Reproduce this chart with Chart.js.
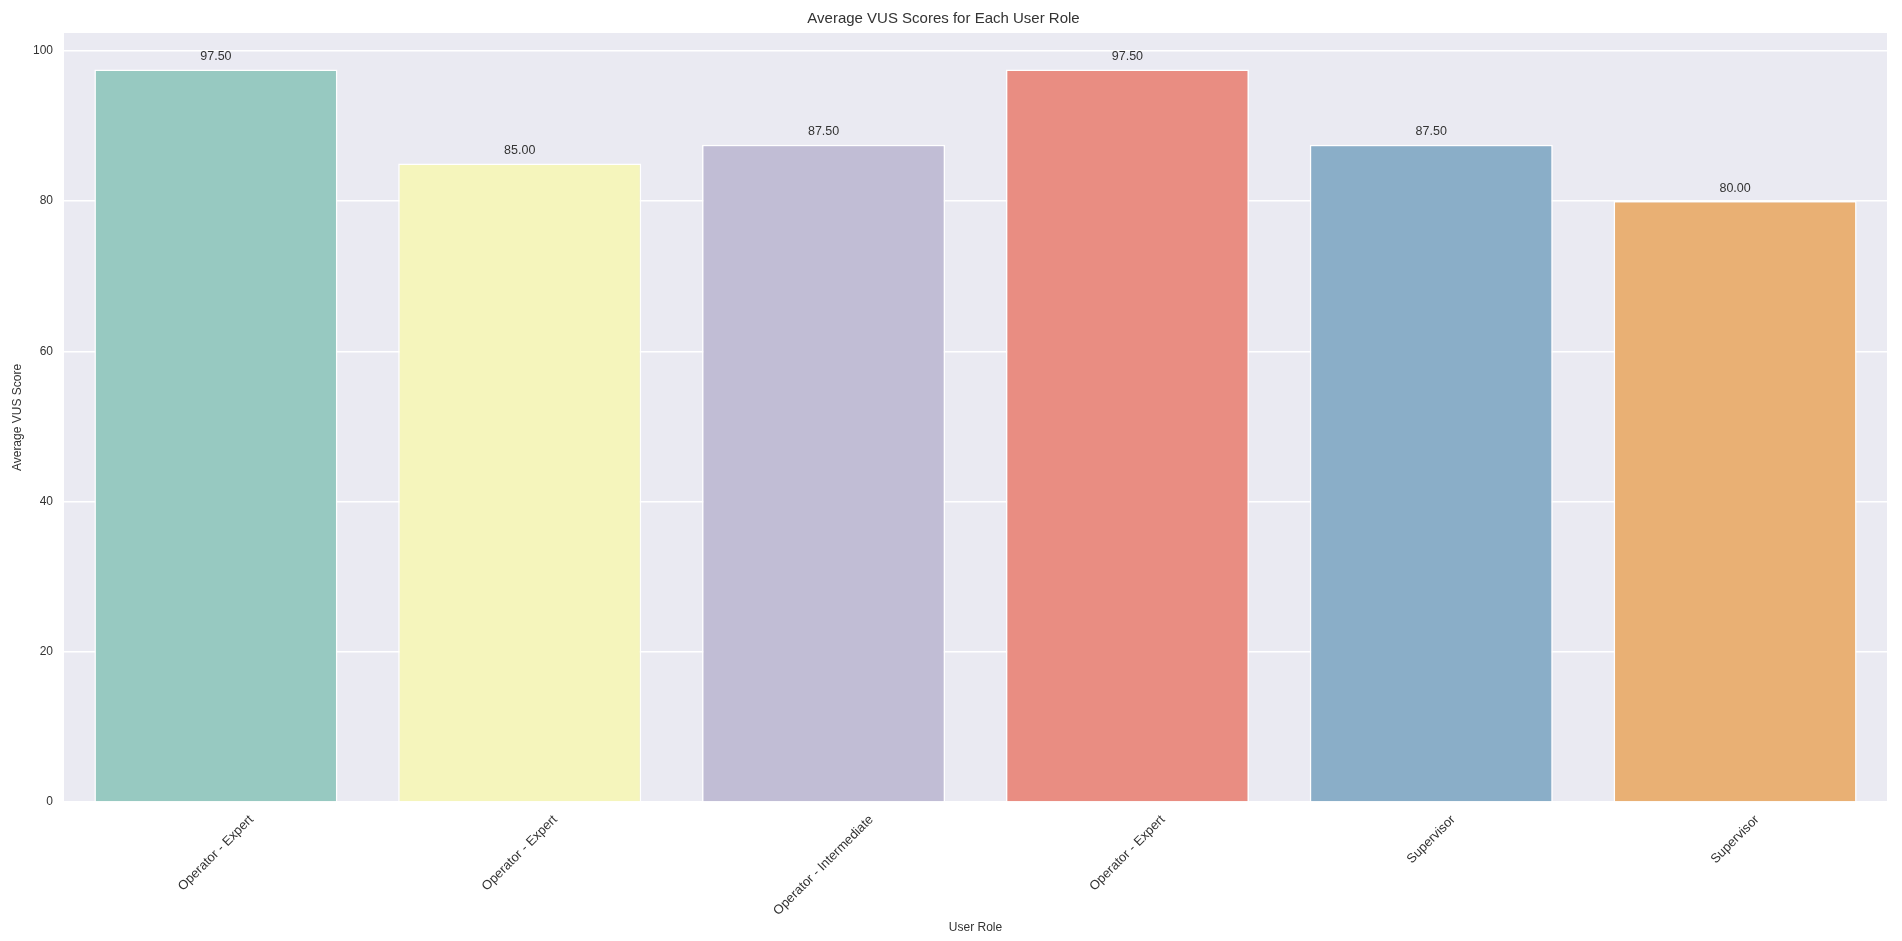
<!DOCTYPE html>
<html>
<head>
<meta charset="utf-8">
<script src="https://cdn.jsdelivr.net/npm/chart.js@4.4.1/dist/chart.umd.min.js"></script>
<style>
  html, body { margin: 0; padding: 0; background: #fff; }
  #wrap { width: 1902px; height: 941px; }
</style>
</head>
<body>
<div id="wrap"><canvas id="vusChart"></canvas></div>
<script>
const roles = ['Operator - Expert', 'Operator - Expert', 'Operator - Intermediate', 'Operator - Expert', 'Supervisor', 'Supervisor'];
const avgScores = [97.5, 85.0, 87.5, 97.5, 87.5, 80.0];
const barColors = ['#97c9c1', '#f5f5bc', '#c1bdd5', '#e98d82', '#8aaec8', '#e9b074'];
const yTicks = [0, 20, 40, 60, 80, 100];

const FONT = "'Liberation Sans', Arial, sans-serif";
const TEXT = '#333333';

// seaborn darkgrid background
const plotBg = {
  id: 'plotBg',
  beforeDraw(chart) {
    const { ctx, chartArea: a } = chart;
    ctx.save();
    ctx.fillStyle = '#eaeaf2';
    ctx.fillRect(a.left, a.top, a.right - a.left, a.bottom - a.top);
    ctx.restore();
  }
};

// value labels above each bar
const barValues = {
  id: 'barValues',
  afterDatasetsDraw(chart) {
    const { ctx } = chart;
    const meta = chart.getDatasetMeta(0);
    ctx.save();
    ctx.font = '12.5px ' + FONT;
    ctx.fillStyle = TEXT;
    ctx.textAlign = 'center';
    ctx.textBaseline = 'middle';
    meta.data.forEach((bar, i) => {
      ctx.fillText(avgScores[i].toFixed(2), bar.x, bar.y - 13);
    });
    ctx.restore();
  }
};

// x labels rotated 45deg, centred on the tick like matplotlib
const xLabels = {
  id: 'xLabels',
  afterDraw(chart) {
    const { ctx } = chart;
    const xs = chart.scales.x;
    const top = chart.chartArea.bottom + 11;
    ctx.save();
    ctx.font = '13px ' + FONT;
    ctx.fillStyle = TEXT;
    ctx.textAlign = 'center';
    ctx.textBaseline = 'middle';
    roles.forEach((lbl, i) => {
      const w = ctx.measureText(lbl).width;
      const h = 13;
      const box = (w + h) * Math.SQRT1_2;
      ctx.save();
      ctx.translate(xs.getPixelForTick(i), top + box / 2);
      ctx.rotate(-Math.PI / 4);
      ctx.fillText(lbl, 0, 0);
      ctx.restore();
    });
    ctx.restore();
  }
};

new Chart(document.getElementById('vusChart').getContext('2d'), {
  type: 'bar',
  data: {
    labels: roles,
    datasets: [{
      label: 'Average VUS Score',
      data: avgScores,
      backgroundColor: barColors,
      borderColor: '#ffffff',
      borderWidth: 1.5,
      barPercentage: 0.8,
      categoryPercentage: 1.0
    }]
  },
  options: {
    responsive: true,
    maintainAspectRatio: false,
    animation: false,
    layout: { padding: { left: 0, right: 15, top: 0, bottom: 0 } },
    plugins: {
      legend: { display: false },
      tooltip: { enabled: false },
      title: {
        display: true,
        text: 'Average VUS Scores for Each User Role',
        color: TEXT,
        font: { family: FONT, size: 15, weight: 'normal' },
        padding: { top: 10, bottom: 5 }
      }
    },
    scales: {
      x: {
        grid: { display: false },
        border: { display: false },
        ticks: { display: false },
        title: {
          display: true,
          text: 'User Role',
          color: TEXT,
          font: { family: FONT, size: 12 },
          padding: { top: 0, bottom: 6 }
        },
        afterFit(scale) { scale.height = 139; }
      },
      y: {
        min: 0,
        max: 102.375,
        afterBuildTicks(scale) { scale.ticks = yTicks.map(v => ({ value: v })); },
        grid: { color: '#ffffff', lineWidth: 1.5, drawTicks: false },
        border: { display: false },
        ticks: {
          color: TEXT,
          font: { family: FONT, size: 12 },
          padding: 11
        },
        title: {
          display: true,
          text: 'Average VUS Score',
          color: TEXT,
          font: { family: FONT, size: 12 },
          padding: { top: 10, bottom: 0 }
        },
        afterFit(scale) { scale.width = 64; }
      }
    }
  },
  plugins: [plotBg, barValues, xLabels]
});
</script>
</body>
</html>
